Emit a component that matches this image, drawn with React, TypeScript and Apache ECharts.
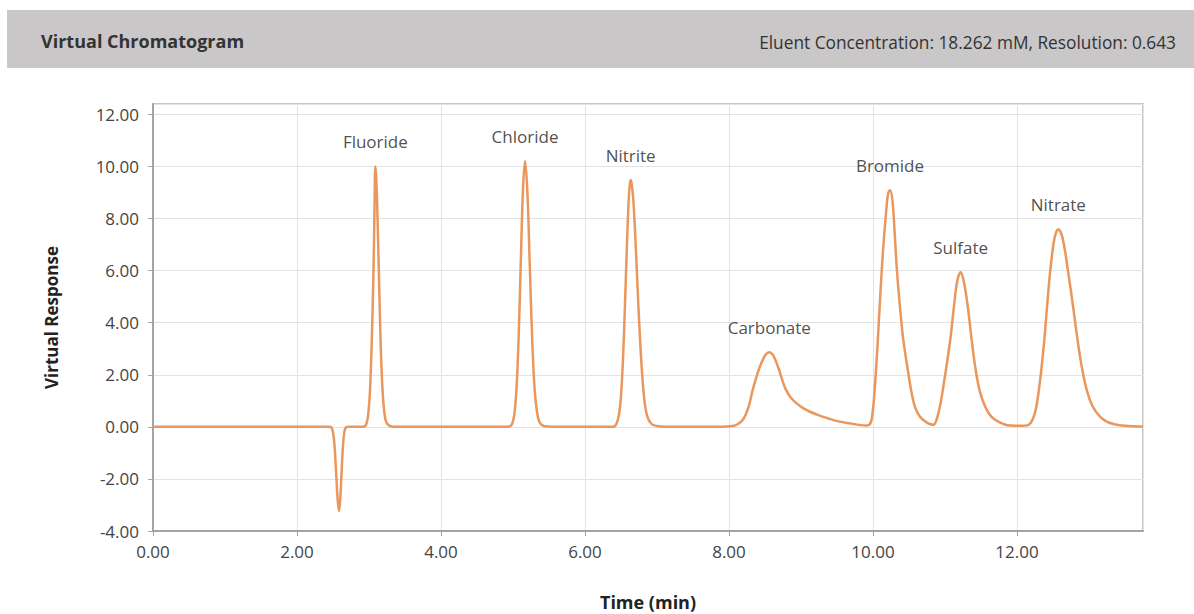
import React, { useEffect, useRef } from "react";
import * as echarts from "echarts";

type Pt = [number, number];

const baselineStart: Pt[] = [[0, 0], [1, 0], [2, 0], [2.44, 0]];
const injectionDip: Pt[] = [[2.48, -0.03], [2.51, -0.4], [2.53, -1.1], [2.55, -2.1], [2.565, -2.8], [2.583, -3.23], [2.6, -2.8], [2.615, -2.0], [2.635, -0.9], [2.655, -0.25], [2.68, -0.02], [2.72, 0]];
const fluoridePeak: Pt[] = [[2.9, 0], [2.938, 0.02], [2.963, 0.11], [2.988, 0.44], [3.013, 1.35], [3.038, 3.25], [3.063, 6.07], [3.076, 8.3], [3.088, 10.0], [3.1, 9.6], [3.113, 8.6], [3.138, 5.8], [3.163, 3.1], [3.188, 1.4], [3.213, 0.55], [3.24, 0.18], [3.28, 0.05], [3.35, 0]];
const chloridePeak: Pt[] = [[4.9, 0], [4.957, 0.02], [4.987, 0.11], [5.017, 0.45], [5.047, 1.38], [5.077, 3.32], [5.107, 6.19], [5.137, 9.01], [5.167, 10.21], [5.2, 9.01], [5.233, 6.19], [5.266, 3.4], [5.299, 1.5], [5.332, 0.6], [5.365, 0.2], [5.417, 0.05], [5.5, 0.01], [5.6, 0]];
const nitritePeak: Pt[] = [[6.38, 0], [6.43, 0.08], [6.47, 0.44], [6.5, 1.2], [6.53, 2.74], [6.556, 4.74], [6.58, 6.8], [6.6, 8.3], [6.618, 9.2], [6.634, 9.48], [6.65, 9.3], [6.67, 8.75], [6.7, 7.24], [6.74, 4.74], [6.78, 2.6], [6.82, 1.15], [6.86, 0.45], [6.92, 0.12], [7.0, 0.03], [7.1, 0]];
const carbonatePeak: Pt[] = [[7.9, 0], [8.05, 0.03], [8.12, 0.1], [8.2, 0.3], [8.27, 0.75], [8.33, 1.43], [8.39, 2.0], [8.45, 2.46], [8.51, 2.78], [8.56, 2.87], [8.62, 2.72], [8.685, 2.27], [8.74, 1.8], [8.79, 1.43], [8.86, 1.12], [8.94, 0.9], [9.03, 0.72], [9.125, 0.58], [9.24, 0.45], [9.36, 0.34], [9.45, 0.26], [9.54, 0.2], [9.64, 0.15], [9.73, 0.11], [9.82, 0.07], [9.9, 0.05]];
const bromidePeak: Pt[] = [[9.95, 0.08], [9.985, 0.35], [10.02, 1.3], [10.06, 3.0], [10.1, 5.0], [10.14, 6.8], [10.19, 8.5], [10.21, 8.95], [10.236, 9.09], [10.27, 8.7], [10.3, 7.5], [10.33, 6.1], [10.375, 4.6], [10.42, 3.36], [10.49, 2.07], [10.53, 1.4], [10.58, 0.79], [10.65, 0.4], [10.74, 0.18], [10.8, 0.1]];
const sulfatePeak: Pt[] = [[10.84, 0.08], [10.88, 0.25], [10.93, 0.79], [10.98, 1.6], [11.03, 2.5], [11.08, 3.5], [11.125, 4.65], [11.17, 5.6], [11.218, 5.94], [11.26, 5.6], [11.315, 4.65], [11.37, 3.36], [11.42, 2.3], [11.48, 1.4], [11.556, 0.79], [11.64, 0.4], [11.74, 0.2], [11.84, 0.08], [11.92, 0.05]];
const nitratePeak: Pt[] = [[12.05, 0.04], [12.16, 0.08], [12.22, 0.3], [12.27, 0.79], [12.33, 2.0], [12.38, 3.36], [12.42, 4.7], [12.46, 5.95], [12.52, 7.23], [12.574, 7.59], [12.635, 7.23], [12.71, 5.95], [12.78, 4.6], [12.84, 3.36], [12.9, 2.3], [12.97, 1.4], [13.05, 0.79], [13.15, 0.4], [13.245, 0.2], [13.35, 0.1], [13.5, 0.04], [13.75, 0.01]];

const peakNames = ["Fluoride", "Chloride", "Nitrite", "Carbonate", "Bromide", "Sulfate", "Nitrate"];
const peakTimes = [3.088, 5.167, 6.634, 8.56, 10.236, 11.218, 12.574];
const peakHeights = [10.0, 10.21, 9.48, 2.87, 9.09, 5.94, 7.59];

const titleText = "Virtual Chromatogram";
const infoText = "Eluent Concentration: 18.262 mM, Resolution: 0.643";

const FONT = "'Open Sans', 'Noto Sans', sans-serif";

export default function App() {
  const ref = useRef<HTMLDivElement>(null);
  useEffect(() => {
    if (!ref.current) return;
    const chart = echarts.init(ref.current, undefined, { renderer: "svg" });
    const curve = [
      ...baselineStart,
      ...injectionDip,
      ...fluoridePeak,
      ...chloridePeak,
      ...nitritePeak,
      ...carbonatePeak,
      ...bromidePeak,
      ...sulfatePeak,
      ...nitratePeak,
    ];
    const labels = peakNames.map((n, i) => ({ name: n, value: [peakTimes[i], peakHeights[i]] }));
    chart.setOption({
      animation: false,
      textStyle: { fontFamily: FONT },
      graphic: [
        { type: "rect", shape: { x: 7, y: 10, width: 1187, height: 58 }, style: { fill: "#c9c7c8" }, silent: true },
        { type: "text", x: 41, y: 41, style: { text: titleText, fill: "#333333", font: `bold 18px ${FONT}`, verticalAlign: "middle", textAlign: "left" } },
        { type: "text", x: 1176, y: 42, style: { text: infoText, fill: "#333333", font: `17.3px ${FONT}`, verticalAlign: "middle", textAlign: "right" } },
      ],
      grid: { left: 153, top: 104, width: 990, height: 427, show: true, borderColor: "#b5b5b5", borderWidth: 1.5, containLabel: false, outerBoundsMode: "none" },
      xAxis: {
        type: "value",
        min: 0,
        max: 13.75,
        interval: 2,
        name: "Time (min)",
        nameLocation: "middle",
        nameGap: 62,
        nameTextStyle: { fontFamily: FONT, fontSize: 18, fontWeight: "bold", color: "#222" },
        axisLine: { show: true, onZero: false, lineStyle: { color: "#a3a3a3", width: 2 } },
        axisTick: { show: true, length: 5, lineStyle: { color: "#a3a3a3" } },
        axisLabel: { showMaxLabel: false, margin: 12, fontSize: 17, color: "#444", fontFamily: FONT, formatter: (v: number) => v.toFixed(2) },
        splitLine: { show: true, lineStyle: { color: "#e3e3e3", width: 1 } },
      },
      yAxis: {
        type: "value",
        min: -4,
        max: 12.4,
        interval: 2,
        name: "Virtual Response",
        nameLocation: "middle",
        nameGap: 93,
        nameRotate: 90,
        nameTextStyle: { fontFamily: FONT, fontSize: 17, fontWeight: "bold", color: "#222" },
        axisLine: { show: true, onZero: false, lineStyle: { color: "#a3a3a3", width: 2 } },
        axisTick: { show: true, length: 5, lineStyle: { color: "#a3a3a3" } },
        axisLabel: { showMaxLabel: false, margin: 14, fontSize: 17, color: "#444", fontFamily: FONT, formatter: (v: number) => v.toFixed(2) },
        splitLine: { show: true, lineStyle: { color: "#e3e3e3", width: 1 } },
      },
      series: [
        {
          type: "line",
          data: curve,
          showSymbol: false,
          smooth: 0.35,
          lineStyle: { color: "#e9975d", width: 2.5, join: "round" },
          silent: true,
          z: 3,
        },
        {
          type: "scatter",
          data: labels,
          symbolSize: 0,
          silent: true,
          z: 4,
          label: {
            show: true,
            position: "top",
            distance: 16,
            formatter: (p: any) => p.name,
            fontFamily: FONT,
            fontSize: 17,
            color: "#222",
          },
        },
      ],
    });
    return () => chart.dispose();
  }, []);
  return <div ref={ref} style={{ position: "fixed", left: 0, top: 0, width: 1194, height: 614, background: "#fff" }} />;
}
